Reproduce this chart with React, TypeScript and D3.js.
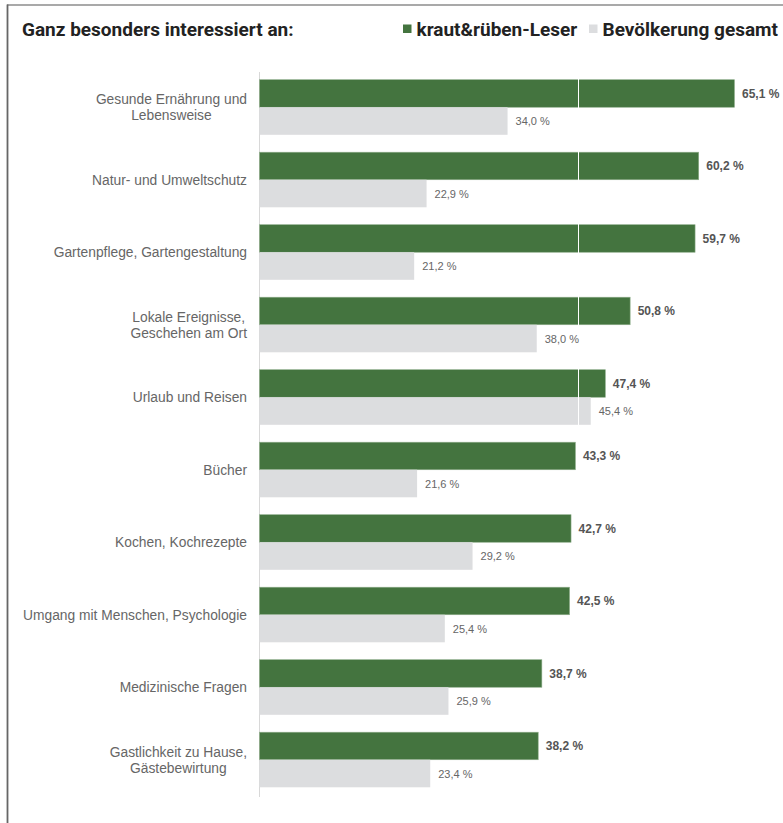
import React from "react";
import * as d3 from "d3";

const categories: string[][] = [
  ["Gesunde Ernährung und", "Lebensweise"],
  ["Natur- und Umweltschutz"],
  ["Gartenpflege, Gartengestaltung"],
  ["Lokale Ereignisse,", "Geschehen am Ort"],
  ["Urlaub und Reisen"],
  ["Bücher"],
  ["Kochen, Kochrezepte"],
  ["Umgang mit Menschen, Psychologie"],
  ["Medizinische Fragen"],
  ["Gastlichkeit zu Hause,", "Gästebewirtung"],
];
const readers = [65.1, 60.2, 59.7, 50.8, 47.4, 43.3, 42.7, 42.5, 38.7, 38.2];
const population = [34.0, 22.9, 21.2, 38.0, 45.4, 21.6, 29.2, 25.4, 25.9, 23.4];
const seriesNames = ["kraut&rüben-Leser", "Bevölkerung gesamt"];
const gridValues = [43.65];
const title = "Ganz besonders interessiert an:";

const W = 783;
const H = 823;
const GREEN = "#44743f";
const GRAY = "#dcdddf";
const LABEL_SIZE = 13.8;
const LABEL_FONT = `${LABEL_SIZE}px 'Liberation Sans', Arial, sans-serif`;

let ctx: CanvasRenderingContext2D | null = null;
function measure(t: string, font: string): number {
  if (!ctx) ctx = document.createElement("canvas").getContext("2d");
  if (!ctx) return t.length * 7;
  ctx.font = font;
  return ctx.measureText(t).width;
}

const fmt = (v: number) => v.toFixed(1).replace(".", ",") + " %";

export default function App() {
  const x = d3.scaleLinear().domain([0, 100]).range([259.5, 259.5 + 729.6]);
  const idx = categories.map((_, i) => String(i));
  const y = d3.scaleBand().domain(idx).range([71, 796]).paddingInner(0.24).paddingOuter(0.12);
  const bh = y.bandwidth() / 2;
  const labelRight = 247;
  const headFont = { fontFamily: "Roboto, sans-serif", fontWeight: 700, fontSize: 19, fill: "#222" } as const;

  return (
    <div style={{ position: "absolute", left: 0, top: 0 }}>
      <svg width={W} height={H} style={{ display: "block", background: "#fff" }}>
        {/* frame */}
        <line x1={7} x2={W} y1={5} y2={5} stroke="#555" strokeWidth={1.2} />
        <line x1={7.5} x2={7.5} y1={4.5} y2={H} stroke="#666" strokeWidth={1.8} />

        {/* title & legend */}
        <text x={22} y={36} {...headFont}>
          {title}
        </text>
        <rect x={403} y={24.5} width={8.5} height={8.5} fill={GREEN} />
        <text x={416.5} y={36} {...headFont}>
          {seriesNames[0]}
        </text>
        <rect x={589} y={24.5} width={8.5} height={8.5} fill={GRAY} />
        <text x={602.5} y={36} {...headFont}>
          {seriesNames[1]}
        </text>

        {/* axis line */}
        <line x1={x(0)} x2={x(0)} y1={72} y2={797} stroke="#d8d8d8" strokeWidth={1} />

        {/* bars */}
        {categories.map((_, i) => {
          const y0 = y(String(i)) as number;
          return (
            <g key={i}>
              <rect x={x(0)} y={y0} width={x(readers[i]) - x(0)} height={bh} fill={GREEN} stroke="#8fae8b" strokeWidth={0.6} />
              <rect x={x(0)} y={y0 + bh} width={x(population[i]) - x(0)} height={bh} fill={GRAY} />
            </g>
          );
        })}

        {/* white grid lines over bars */}
        {gridValues.map((g) => (
          <line key={g} x1={Math.round(x(g)) + 0.5} x2={Math.round(x(g)) + 0.5} y1={72} y2={797} stroke="#fff" strokeWidth={1} />
        ))}

        {/* labels */}
        {categories.map((lines, i) => {
          const y0 = y(String(i)) as number;
          const cy = y0 + y.bandwidth() / 2;
          const maxW = d3.max(lines, (l) => measure(l, LABEL_FONT)) || 0;
          const cx = labelRight - maxW / 2;
          return (
            <g key={i}>
              <text x={x(readers[i]) + 7.5} y={y0 + bh / 2 + 4.5} fontFamily="'Liberation Sans', Arial, sans-serif" fontWeight={700} fontSize={12} fill="#555">
                {fmt(readers[i])}
              </text>
              <text x={x(population[i]) + 8} y={y0 + bh * 1.5 + 4} fontFamily="'Liberation Sans', Arial, sans-serif" fontSize={11} fill="#666">
                {fmt(population[i])}
              </text>
              {lines.map((l, j) => (
                <text
                  key={j}
                  x={cx}
                  y={cy + (j - (lines.length - 1) / 2) * 16 + 4.8}
                  textAnchor="middle"
                  fontFamily="'Liberation Sans', Arial, sans-serif"
                  fontSize={LABEL_SIZE}
                  fill="#666"
                >
                  {l}
                </text>
              ))}
            </g>
          );
        })}
      </svg>
    </div>
  );
}
